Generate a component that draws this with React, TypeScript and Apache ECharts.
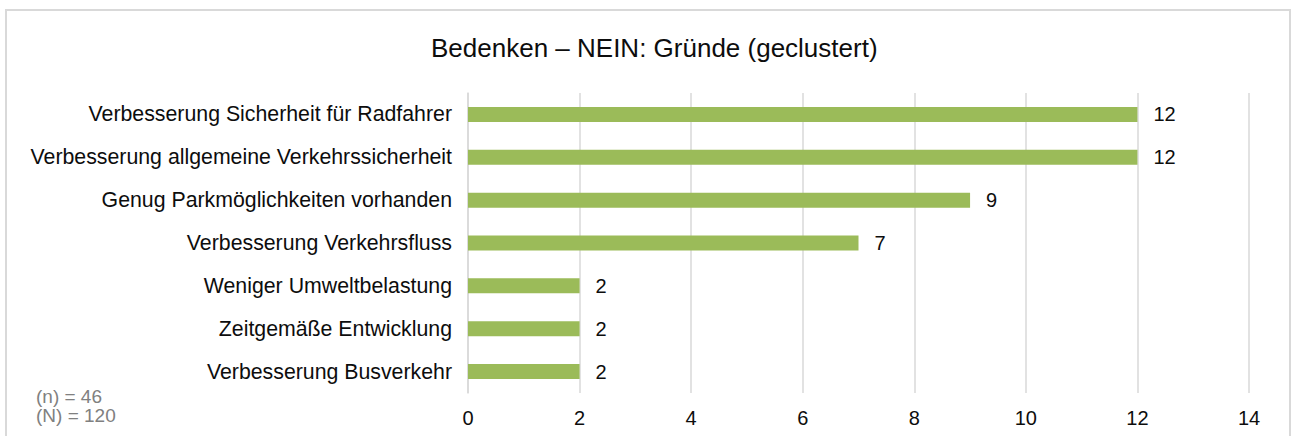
import React, { useEffect, useRef } from "react";
import * as echarts from "echarts";

const categories = [
  "Verbesserung Busverkehr",
  "Zeitgemäße Entwicklung",
  "Weniger Umweltbelastung",
  "Verbesserung Verkehrsfluss",
  "Genug Parkmöglichkeiten vorhanden",
  "Verbesserung allgemeine Verkehrssicherheit",
  "Verbesserung Sicherheit für Radfahrer",
];
const values = [2, 2, 2, 7, 9, 12, 12];
const titleText = "Bedenken – NEIN: Gründe (geclustert)";
const noteLines = ["(n) = 46", "(N) = 120"];

const FONT = "Liberation Sans, Arial, sans-serif";

export default function App() {
  const ref = useRef<HTMLDivElement>(null);
  useEffect(() => {
    if (!ref.current) return;
    const chart = echarts.init(ref.current, null, { renderer: "svg" });
    chart.setOption({
      animation: false,
      backgroundColor: "#ffffff",
      title: {
        text: titleText,
        left: 426,
        top: 30,
        textStyle: { fontFamily: FONT, fontSize: 26, fontWeight: "normal", color: "#0d0d0d" },
      },
      graphic: [
        {
          type: "rect",
          shape: { x: 6, y: 10, width: 1284, height: 440 },
          style: { fill: "none", stroke: "#d9d9d9", lineWidth: 2 },
          silent: true,
        },
        {
          type: "text",
          left: 36,
          top: 387,
          style: {
            text: noteLines.join("\n"),
            font: `19px ${FONT}`,
            fill: "#808080",
            lineHeight: 19,
          },
        },
      ],
      grid: { left: 468, right: 49, top: 93, bottom: 43, containLabel: false },
      xAxis: {
        type: "value",
        min: 0,
        max: 14,
        interval: 2,
        axisLine: { show: false },
        axisTick: { show: false },
        splitLine: { show: true, lineStyle: { color: "#d9d9d9", width: 1.5 } },
        axisLabel: { fontFamily: FONT, fontSize: 20, color: "#0d0d0d", margin: 15 },
      },
      yAxis: {
        type: "category",
        data: categories,
        axisLine: { show: true, lineStyle: { color: "#d9d9d9", width: 1.5 } },
        axisTick: { show: false },
        axisLabel: { fontFamily: FONT, fontSize: 21.3, color: "#0d0d0d", margin: 16 },
      },
      series: [
        {
          type: "bar",
          data: values,
          barWidth: 15,
          itemStyle: { color: "#9bbb59" },
          label: {
            show: true,
            position: "right",
            distance: 16,
            fontFamily: FONT,
            fontSize: 20,
            color: "#0d0d0d",
          },
        },
      ],
    });
    return () => chart.dispose();
  }, []);
  return (
    <div
      ref={ref}
      style={{ position: "fixed", left: 0, top: 0, width: 1298, height: 436 }}
    />
  );
}
